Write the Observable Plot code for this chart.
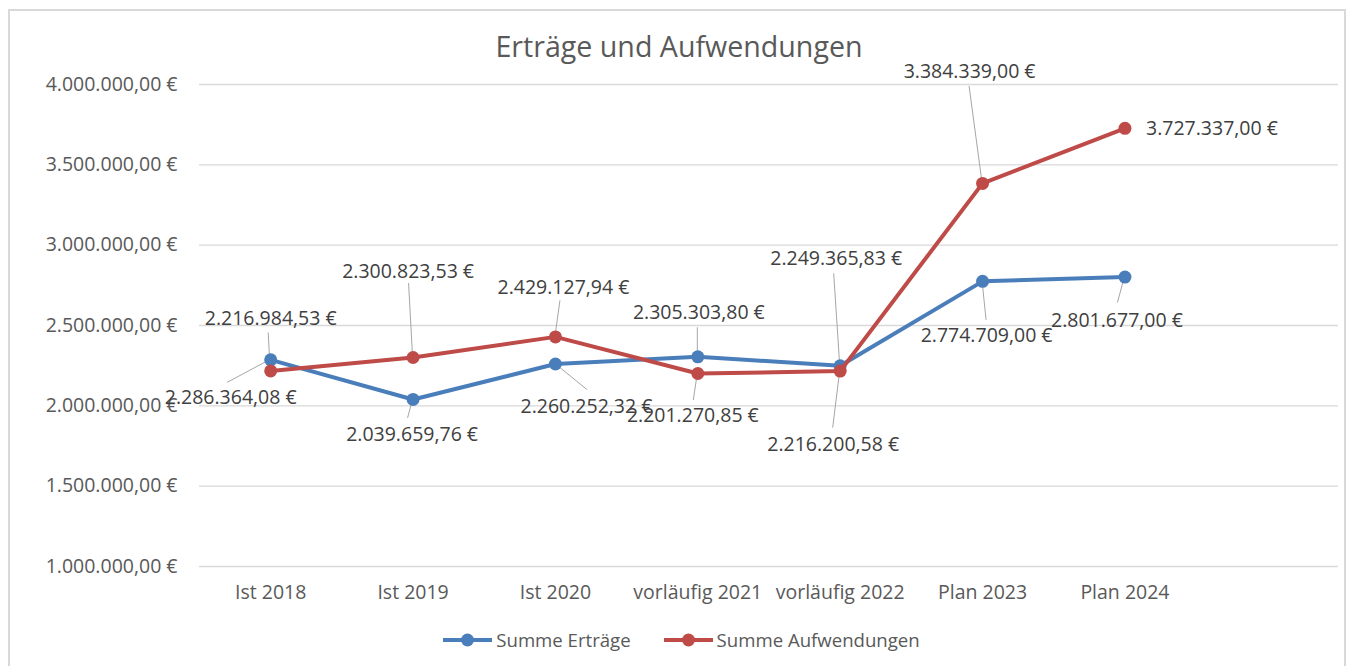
<!DOCTYPE html>
<html>
<head>
<meta charset="utf-8">
<script src="https://cdn.jsdelivr.net/npm/d3@7"></script>
<script src="https://cdn.jsdelivr.net/npm/@observablehq/plot@0.6"></script>
<style>
  html, body { margin: 0; padding: 0; background: #fff; overflow: hidden; }
  body { font-family: "Open Sans", sans-serif; width: 1351px; height: 666px; position: relative; }
  #frame { position: absolute; left: 8px; top: 9px; width: 1338px; height: 720px; border: 2px solid #d9d9d9; box-sizing: border-box; }
  #title { position: absolute; left: 0; top: 29px; width: 1358px; text-align: center; font-size: 28.6px; line-height: 34px; color: #595959; }
  #chart { position: absolute; left: 0; top: 60px; }
  #legend { position: absolute; left: 0; top: 627px; width: 1363px; display: flex; justify-content: center; align-items: center; font-size: 18.6px; color: #595959; line-height: 26px; }
  .item { display: flex; align-items: center; }
  .item + .item { margin-left: 33px; }
  .item svg { margin-right: 4px; }
</style>
</head>
<body>
<div id="frame"></div>
<div id="title">Erträge und Aufwendungen</div>
<div id="chart"></div>
<div id="legend"></div>
<script>
// ---- data ----
const categories = ["Ist 2018", "Ist 2019", "Ist 2020", "vorläufig 2021", "vorläufig 2022", "Plan 2023", "Plan 2024"];
const ertraege = [2286364.08, 2039659.76, 2260252.32, 2305303.80, 2249365.83, 2774709.00, 2801677.00];
const aufwendungen = [2216984.53, 2300823.53, 2429127.94, 2201270.85, 2216200.58, 3384339.00, 3727337.00];
const yTicks = [1000000, 1500000, 2000000, 2500000, 3000000, 3500000, 4000000];
const seriesNames = ["Summe Erträge", "Summe Aufwendungen"];

// ---- layout (label placement, pixels relative to the point) ----
const ertraegeLabelOffset = [[-40, 38], [-1, 35], [31, 43], [1, -44], [-4, -107], [4, 54], [-8, 44]];
const ertraegeLeaderEnd = [[-43, 23], [-5, 19], [32, 26], [0, -29], [-6, -92], [4, 39], [-7, 26]];
const aufwLabelOffset = [[0, -52], [-5, -86], [8, -49], [-5, 42], [-7, 74], [-13, -112], [87, 0]];
const aufwLeaderEnd = [[-2, -38], [-4, -74], [5, -36], [-4, 27], [-7, 57], [-13, -97], null];

const colors = {"Summe Erträge": "#4a7ebb", "Summe Aufwendungen": "#be4b48"};

const locale = d3.formatLocale({decimal: ",", thousands: ".", grouping: [3], currency: ["", " €"]});
const euro = locale.format("$,.2f");

const rowsE = ertraege.map((v, i) => ({i, v, series: seriesNames[0], off: ertraegeLabelOffset[i], lead: ertraegeLeaderEnd[i]}));
const rowsA = aufwendungen.map((v, i) => ({i, v, series: seriesNames[1], off: aufwLabelOffset[i], lead: aufwLeaderEnd[i]}));
const allRows = rowsE.concat(rowsA);

const font = '"Open Sans", sans-serif';

function leaders(index, scales, values, dimensions, context) {
  const g = d3.create("svg:g");
  allRows.forEach(d => {
    if (!d.lead) return;
    const x = scales.x(d.i), y = scales.y(d.v);
    g.append("line")
      .attr("x1", x).attr("y1", y)
      .attr("x2", x + d.lead[0]).attr("y2", y + d.lead[1])
      .attr("stroke", "#a6a6a6").attr("stroke-width", 1);
  });
  return g.node();
}

const labelMarks = allRows.map(d => Plot.text([d], {
  x: "i", y: "v", text: r => euro(r.v),
  dx: d.off[0], dy: d.off[1],
  textAnchor: "middle", fill: "#404040", fontSize: 19.5, fontFamily: font
}));

const chart = Plot.plot({
  width: 1351,
  height: 551,
  marginLeft: 199,
  marginRight: 13,
  marginTop: 24,
  marginBottom: 45,
  style: {fontFamily: font, fontSize: "19.5px", color: "#595959", background: "transparent", overflow: "visible"},
  x: {type: "linear", domain: [-0.5, 7.5], axis: null},
  y: {domain: [1000000, 4000000], axis: null},
  marks: [
    Plot.gridY(yTicks, {stroke: "#d9d9d9", strokeOpacity: 1, strokeWidth: 1.3}),
    Plot.axisY(yTicks, {tickSize: 0, tickPadding: 22, tickFormat: euro, fill: "#595959", fontSize: 19.5, label: null}),
    Plot.axisX(d3.range(categories.length), {tickSize: 0, tickPadding: 19, tickFormat: i => categories[i], fill: "#595959", fontSize: 19.5, label: null}),
    leaders,
    Plot.line(rowsE, {x: "i", y: "v", stroke: colors[seriesNames[0]], strokeWidth: 4}),
    Plot.dot(rowsE, {x: "i", y: "v", fill: colors[seriesNames[0]], r: 6.5}),
    Plot.line(rowsA, {x: "i", y: "v", stroke: colors[seriesNames[1]], strokeWidth: 4}),
    Plot.dot(rowsA, {x: "i", y: "v", fill: colors[seriesNames[1]], r: 6.5}),
    ...labelMarks
  ]
});
document.getElementById("chart").appendChild(chart);

// legend
const legend = document.getElementById("legend");
seriesNames.forEach(name => {
  const item = document.createElement("div");
  item.className = "item";
  const c = colors[name];
  item.innerHTML = `<svg width="49" height="14"><line x1="0" y1="7" x2="49" y2="7" stroke="${c}" stroke-width="4"/><circle cx="24.5" cy="7" r="6.5" fill="${c}"/></svg><span>${name}</span>`;
  legend.appendChild(item);
});
</script>
</body>
</html>
